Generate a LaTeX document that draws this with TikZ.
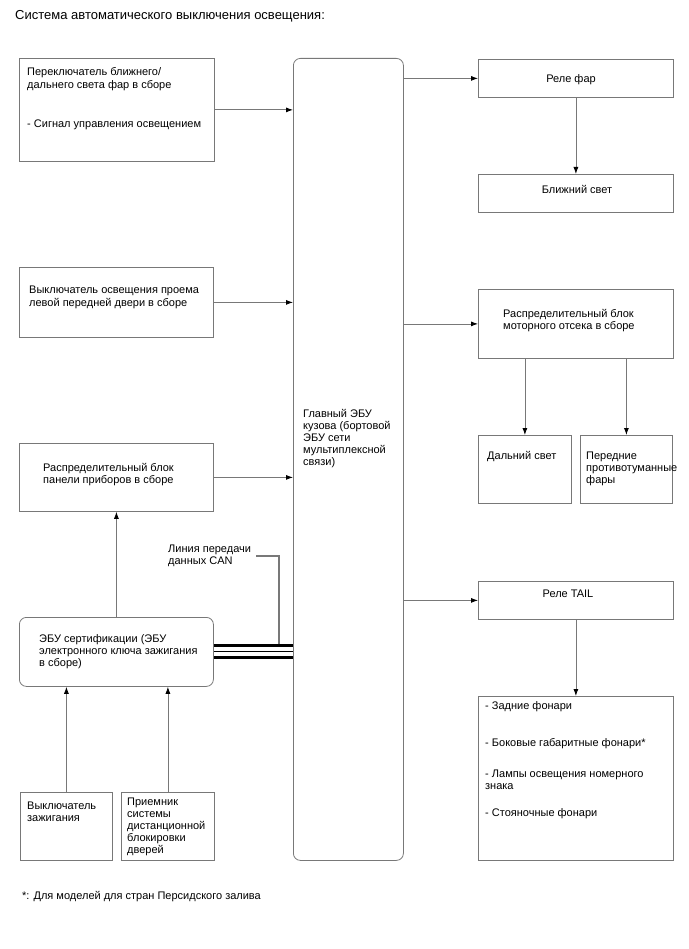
\documentclass[tikz,border=0pt]{standalone}
\usepackage{fontspec}
\setmainfont{Liberation Sans}
\usetikzlibrary{arrows.meta}
\definecolor{linegray}{RGB}{120,120,120}
\newcommand{\ml}[1]{\begin{tabular}[t]{@{}l@{}}#1\end{tabular}}
\tikzset{
  box/.style={draw=linegray, line width=0.8pt, inner sep=0pt, anchor=north west},
  rbox/.style={box, rounded corners=7pt},
  txt/.style={inner sep=0pt, anchor=base west, font=\fontsize{11}{12.2}\selectfont},
  ctxt/.style={inner sep=0pt, anchor=base, font=\fontsize{11}{12.2}\selectfont},
  arr/.style={draw=linegray, line width=0.8pt, -{Latex[length=7pt,width=5pt,color=black]}},
  canline/.style={line width=3pt, black},
}
\begin{document}
\begin{tikzpicture}[x=1pt,y=-1pt]
\useasboundingbox (0,0) rectangle (688,949);
% title
\node[inner sep=0pt, anchor=base west, font=\fontsize{13}{15}\selectfont] (title) at (15,19.5) {Система автоматического выключения освещения:};
% left boxes
\node[box, minimum width=195pt, minimum height=103pt] (b1) at (19,58) {};
\node[txt] (t1) at (27,76) {\ml{Переключатель ближнего/\\дальнего света фар в сборе}};
\node[txt] (t1b) at (27,128) {- Сигнал управления освещением};
\node[box, minimum width=194pt, minimum height=70pt] (b2) at (19,267) {};
\node[txt] (t2) at (29,294) {\ml{Выключатель освещения проема\\левой передней двери в сборе}};
\node[box, minimum width=194pt, minimum height=68pt] (b3) at (19,443) {};
\node[txt] (t3) at (43,471) {\ml{Распределительный блок\\панели приборов в сборе}};
\node[rbox, minimum width=194pt, minimum height=69pt] (ecu) at (19,617) {};
\node[txt] (t4) at (39,642) {\ml{ЭБУ сертификации (ЭБУ\\электронного ключа зажигания\\в сборе)}};
\node[box, minimum width=92pt, minimum height=68pt] (ign) at (20,792) {};
\node[txt] (t5) at (27,809) {\ml{Выключатель\\зажигания}};
\node[box, minimum width=93pt, minimum height=68pt] (rcv) at (121,792) {};
\node[txt] (t6) at (127,805) {\ml{Приемник\\системы\\дистанционной\\блокировки\\дверей}};
% central
\node[rbox, minimum width=110pt, minimum height=802pt] (cen) at (293,58) {};
\node[txt] (tc) at (303,417) {\ml{Главный ЭБУ\\кузова (бортовой\\ЭБУ сети\\мультиплексной\\связи)}};
% right boxes
\node[box, minimum width=195pt, minimum height=38pt] (rel) at (478,59) {};
\node[ctxt] (tr) at (571,83) {Реле фар};
\node[box, minimum width=195pt, minimum height=38pt] (near) at (478,174) {};
\node[ctxt] (tn) at (577,194) {Ближний свет};
\node[box, minimum width=195pt, minimum height=69pt] (eng) at (478,289) {};
\node[txt] (te) at (503,317) {\ml{Распределительный блок\\моторного отсека в сборе}};
\node[box, minimum width=93pt, minimum height=68pt] (far) at (478,435) {};
\node[txt] (tf) at (487,459) {Дальний свет};
\node[box, minimum width=92pt, minimum height=68pt] (fog) at (580,435) {};
\node[txt] (tg) at (586,459) {\ml{Передние\\противотуманные\\фары}};
\node[box, minimum width=195pt, minimum height=38pt] (tail) at (478,581) {};
\node[ctxt] (tt) at (568,597) {Реле TAIL};
\node[box, minimum width=195pt, minimum height=164pt] (lamps) at (478,696) {};
\node[txt] (tl1) at (485,709) {- Задние фонари};
\node[txt] (tl2) at (485,746) {- Боковые габаритные фонари*};
\node[txt] (tl3) at (485,777) {\ml{- Лампы освещения номерного\\знака}};
\node[txt] (tl4) at (485,816) {- Стояночные фонари};
% footnote
\node[txt] (fn) at (22,899) {*: Для моделей для стран Персидского залива};
% arrows left -> central
\draw[arr] (b1.east) -- (b1.east -| cen.west);
\draw[arr] (b2.east) -- (b2.east -| cen.west);
\draw[arr] (b3.east) -- (b3.east -| cen.west);
\draw[arr] (ecu.north) -- (ecu.north |- b3.south);
\draw[arr] (ign.north) -- (ign.north |- ecu.south);
\draw[arr] (rcv.north) -- (rcv.north |- ecu.south);
% central -> right
\draw[arr] (cen.east |- rel.west) -- (rel.west);
\draw[arr] (cen.east |- eng.west) -- (eng.west);
\draw[arr] (cen.east |- tail.west) -- (tail.west);
\draw[arr] (rel.south) -- (near.north);
\draw[arr] (eng.south -| far.north) -- (far.north);
\draw[arr] (eng.south -| fog.north) -- (fog.north);
\draw[arr] (tail.south) -- (lamps.north);
% CAN bus
\coordinate (c1) at (0,645.5);
\coordinate (c2) at (0,651);
\coordinate (c3) at (0,657);
\draw[canline] (ecu.east |- c1) -- (cen.west |- c1);
\draw[black, line width=0.8pt] (ecu.east |- c2) -- (cen.west |- c2);
\draw[canline] (ecu.east |- c3) -- (cen.west |- c3);
\node[txt] (can) at (168,552) {\ml{Линия передачи\\данных CAN}};
\coordinate (lead) at (256,556);
\coordinate (leadc) at (279,644);
\draw[linegray, line width=1.3pt] (lead) -| (leadc);
\end{tikzpicture}
\end{document}
